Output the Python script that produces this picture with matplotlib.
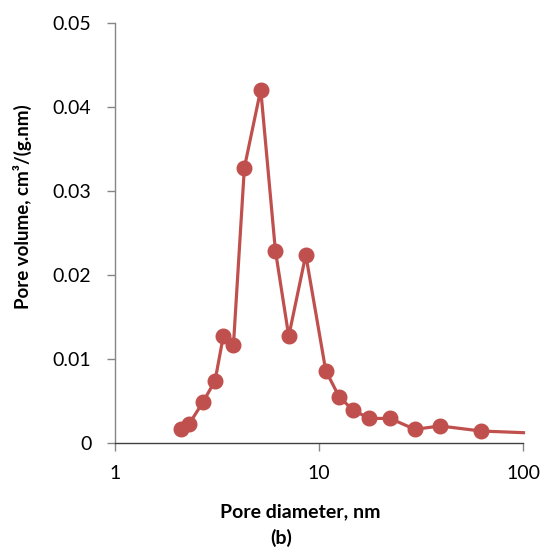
import numpy as np
import matplotlib
matplotlib.use("Agg")
import matplotlib.pyplot as plt
from matplotlib.ticker import FixedLocator, FixedFormatter, NullLocator

# pore size distribution
pore_diam = [2.10, 2.30, 2.69, 3.09, 3.39, 3.80, 4.30, 5.17, 6.10, 7.09,
             8.59, 10.76, 12.5, 14.6, 17.6, 22.2, 29.4, 39.1, 61.8, 100.0]
pore_vol = [0.0016, 0.0022, 0.0048, 0.0074, 0.0127, 0.0116, 0.0328, 0.0421,
            0.0229, 0.0127, 0.0224, 0.0086, 0.0055, 0.0039, 0.0029, 0.0029,
            0.0016, 0.0020, 0.0014, 0.0012]

x_ticks = [1, 10, 100]
x_labels = ["1", "10", "100"]
y_ticks = [0, 0.01, 0.02, 0.03, 0.04, 0.05]
y_labels = ["0", "0.01", "0.02", "0.03", "0.04", "0.05"]

plt.rcParams['font.family'] = ['Lato', 'DejaVu Sans']

col = '#C0504D'
axcol = '#868686'

fig = plt.figure(figsize=(5.44, 5.5), dpi=100)
ax = fig.add_axes([0.2114, 0.195, 0.9623 - 0.2114, 0.9576 - 0.195])

# line without a marker on the last point
ax.plot(pore_diam, pore_vol, '-', color=col, lw=2.3, clip_on=False, zorder=2)
ax.plot(pore_diam[:-1], pore_vol[:-1], 'o', color=col, ms=10.5,
        clip_on=False, zorder=3)

ax.set_xscale('log')
ax.set_xlim(1, 100)
ax.set_ylim(0, 0.05)
ax.xaxis.set_major_locator(FixedLocator(x_ticks))
ax.xaxis.set_major_formatter(FixedFormatter(x_labels))
ax.xaxis.set_minor_locator(NullLocator())
ax.yaxis.set_major_locator(FixedLocator(y_ticks))
ax.yaxis.set_major_formatter(FixedFormatter(y_labels))

for s in ('top', 'right'):
    ax.spines[s].set_visible(False)
for s in ('left', 'bottom'):
    ax.spines[s].set_color(axcol)
    ax.spines[s].set_linewidth(1.0)
ax.tick_params(axis='both', direction='out', length=6, width=1.0,
               color=axcol, labelsize=14)
ax.tick_params(axis='x', pad=10)
ax.tick_params(axis='y', pad=11)
ax.spines['bottom'].set_color('#404040')

# axis titles placed where the reference has them
fig.text(300 / 544, 1 - 512 / 550, 'Pore diameter, nm', ha='center',
         va='center', fontsize=14, fontweight='bold')
fig.text(22 / 544, 1 - 206.5 / 550, 'Pore volume, cm\u00b3/(g.nm)',
         ha='center', va='center', rotation=90, fontsize=13.5,
         fontweight='bold')
fig.text(281 / 544, 1 - 538 / 550, '(b)', ha='center', va='center',
         fontsize=14, fontweight='bold')

fig.savefig('out.png', dpi=100)
plt.close()
